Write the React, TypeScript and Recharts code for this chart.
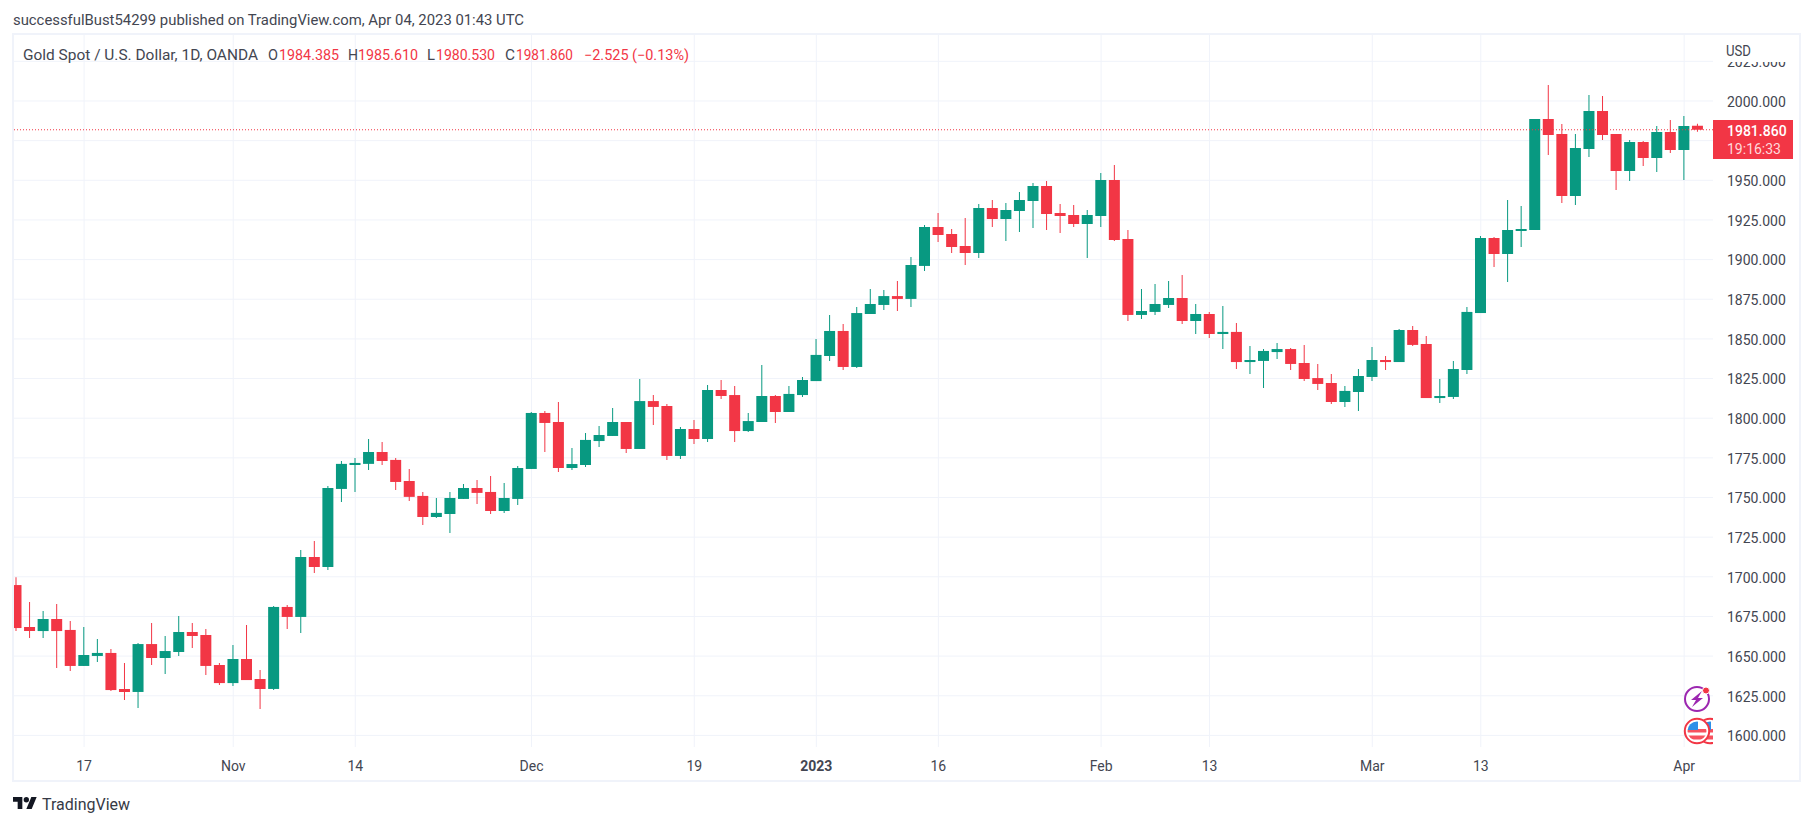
import { Bar, CartesianGrid, Cell, ComposedChart, ReferenceLine, XAxis, YAxis } from "recharts";

const GREEN = "#089981";
const RED = "#F23645";
const GRID = "#F0F3FA";
const FONT = "Roboto, sans-serif";

const dates = [
  "10-10", "10-11", "10-12", "10-13", "10-14", "10-17", "10-18", "10-19", "10-20", "10-21",
  "10-24", "10-25", "10-26", "10-27", "10-28", "10-31", "11-01", "11-02", "11-03", "11-04",
  "11-07", "11-08", "11-09", "11-10", "11-11", "11-14", "11-15", "11-16", "11-17", "11-18",
  "11-21", "11-22", "11-23", "11-24", "11-25", "11-28", "11-29", "11-30", "12-01", "12-02",
  "12-05", "12-06", "12-07", "12-08", "12-09", "12-12", "12-13", "12-14", "12-15", "12-16",
  "12-19", "12-20", "12-21", "12-22", "12-23", "12-27", "12-28", "12-29", "12-30", "01-03",
  "01-04", "01-05", "01-06", "01-09", "01-10", "01-11", "01-12", "01-13", "01-16", "01-17",
  "01-18", "01-19", "01-20", "01-23", "01-24", "01-25", "01-26", "01-27", "01-30", "01-31",
  "02-01", "02-02", "02-03", "02-06", "02-07", "02-08", "02-09", "02-10", "02-13", "02-14",
  "02-15", "02-16", "02-17", "02-20", "02-21", "02-22", "02-23", "02-24", "02-27", "02-28",
  "03-01", "03-02", "03-03", "03-06", "03-07", "03-08", "03-09", "03-10", "03-13", "03-14",
  "03-15", "03-16", "03-17", "03-20", "03-21", "03-22", "03-23", "03-24", "03-27", "03-28",
  "03-29", "03-30", "03-31", "04-03", "04-04",
];

const opens = [
  1694.8, 1668.4, 1665.8, 1673.4, 1666.5, 1643.8, 1650.1, 1652, 1629.3, 1627.4,
  1657.6, 1648.8, 1652.6, 1665.2, 1663.3, 1644.4, 1633, 1648.2, 1635.6, 1629.3,
  1681, 1674.7, 1712.5, 1706.2, 1755.4, 1770.5, 1771.2, 1778.7, 1773.7, 1760.4,
  1751, 1737.7, 1739.6, 1749.1, 1756, 1753.5, 1741.5, 1749.1, 1768, 1803.3,
  1797.6, 1768.6, 1770.5, 1785.6, 1788.8, 1797.6, 1780.6, 1810.8, 1807.7, 1776.2,
  1793.2, 1786.9, 1817.8, 1814.6, 1791.9, 1797.6, 1814, 1803.9, 1814.6, 1823.4,
  1839.2, 1855, 1832.3, 1865.7, 1871.4, 1877, 1875.2, 1896, 1920.5, 1916.1,
  1908.6, 1904.2, 1932.5, 1925.6, 1930.6, 1936.9, 1946.4, 1929.4, 1928.1, 1922.4,
  1927.5, 1950.2, 1913, 1865.1, 1867, 1871.4, 1875.8, 1861.3, 1865.7, 1853.1,
  1854.4, 1835.4, 1836.1, 1841.7, 1843.6, 1834.8, 1825.3, 1822.2, 1810.2, 1816.5,
  1826, 1836.7, 1835.4, 1855.6, 1846.8, 1812.7, 1813.4, 1830.4, 1866.3, 1913.6,
  1903.5, 1918.1, 1918.7, 1988.7, 1979.2, 1940.1, 1969.7, 1993.7, 1979.2, 1955.9,
  1974.2, 1964.1, 1980.5, 1969.1, 1984.385,
];

const highs = [
  1699.7, 1684.1, 1678.4, 1682.9, 1672.1, 1668.4, 1660.8, 1654.5, 1645.7, 1658.3,
  1670.9, 1662.7, 1675.3, 1670.9, 1667.1, 1645.7, 1657, 1669.6, 1641.2, 1681.6,
  1682.2, 1716.9, 1722.6, 1757.3, 1773, 1774.9, 1786.9, 1785, 1774.9, 1768,
  1753.5, 1749.7, 1753.5, 1758.5, 1761.1, 1763.6, 1759.2, 1769.9, 1803.9, 1804.5,
  1810.2, 1781.2, 1790.7, 1795.1, 1806.4, 1797.6, 1824.7, 1814.6, 1809, 1794.4,
  1798.9, 1820.9, 1824.1, 1820.3, 1803.3, 1833.5, 1814.6, 1820.3, 1826, 1849.9,
  1865.1, 1859.4, 1870.1, 1881.5, 1880.8, 1886.5, 1901.6, 1921.8, 1929.4, 1919.3,
  1926.2, 1935.1, 1937.6, 1935.7, 1942.6, 1948.3, 1949.6, 1935.1, 1934.4, 1931.3,
  1954.6, 1959.6, 1918.7, 1881.5, 1884.6, 1886.5, 1890.3, 1872, 1867, 1870.8,
  1860, 1845.5, 1843.6, 1847.4, 1844.3, 1846.2, 1834.2, 1827.9, 1820.3, 1831,
  1844.9, 1839.2, 1856.2, 1858.1, 1851.8, 1824.7, 1836.1, 1870.1, 1914.9, 1914.3,
  1937.6, 1933.8, 1988.7, 2010.1, 1985.5, 1979.2, 2003.8, 2003.2, 1979.2, 1975.4,
  1974.8, 1984.2, 1988, 1990.5, 1985.61,
];

const lows = [
  1665.8, 1661.4, 1661.4, 1642.5, 1640.6, 1643.8, 1646.3, 1628, 1622.3, 1617.3,
  1644.4, 1638.7, 1650.1, 1655.1, 1638.1, 1631.8, 1631.2, 1634.9, 1616.7, 1628.6,
  1667.1, 1664.6, 1702.4, 1704.3, 1747.2, 1753.5, 1767.4, 1770.5, 1754.8, 1747.8,
  1732.7, 1737.1, 1727.7, 1749.1, 1745.9, 1739.6, 1740.3, 1745.3, 1768, 1778.7,
  1766.1, 1767.3, 1769.2, 1781.8, 1788.8, 1778.1, 1780.6, 1795.7, 1773.6, 1774.3,
  1783.7, 1785, 1812.1, 1785, 1791.3, 1797.6, 1797, 1803.9, 1813.4, 1823.4,
  1836.1, 1830.4, 1831.6, 1865.7, 1868.2, 1867.6, 1870.1, 1892.8, 1911.1, 1904.2,
  1896.6, 1901, 1920.5, 1911.7, 1917.4, 1919.9, 1918.7, 1916.8, 1920.5, 1901,
  1920.5, 1911.7, 1861.3, 1862.5, 1865.1, 1869.5, 1859.4, 1853.1, 1850.6, 1843.6,
  1831, 1827.9, 1819, 1837.3, 1830.4, 1823.5, 1817.8, 1809, 1807.1, 1804.5,
  1823.5, 1830.4, 1835.4, 1845.5, 1812.7, 1809.6, 1812.1, 1827.9, 1866.3, 1895.3,
  1885.9, 1908, 1918.7, 1966, 1935.7, 1934.4, 1964.7, 1975.4, 1943.9, 1949.6,
  1959, 1955.2, 1967.2, 1950.2, 1980.53,
];

const closes = [
  1667.7, 1665.8, 1673.4, 1665.8, 1643.8, 1650.7, 1652, 1628.6, 1627.4, 1657.6,
  1648.8, 1653.2, 1665.2, 1662.7, 1643.8, 1633, 1648.2, 1634.9, 1629.3, 1681,
  1674.7, 1712.5, 1706.2, 1756, 1771.2, 1771.8, 1778.7, 1773, 1759.8, 1750.4,
  1737.7, 1740.3, 1749.7, 1756, 1752.9, 1741.5, 1749.7, 1768.6, 1803.3, 1797,
  1768.6, 1771.1, 1786.3, 1789.4, 1797.6, 1780.6, 1810.8, 1807.1, 1776.2, 1793.2,
  1786.9, 1817.8, 1814, 1791.9, 1798.2, 1814, 1803.9, 1815.3, 1824.1, 1839.9,
  1855, 1832.3, 1866.3, 1872, 1877, 1875.2, 1896.6, 1920.5, 1915.5, 1907.9,
  1904.2, 1932.5, 1925.6, 1931.3, 1937.6, 1946.4, 1928.8, 1927.5, 1922.4, 1928.1,
  1950.2, 1912.3, 1865.1, 1867.6, 1872, 1875.8, 1861.3, 1865.7, 1853.1, 1854.4,
  1835.4, 1836.7, 1842.4, 1843.6, 1834.2, 1824.7, 1821.6, 1810.2, 1817.2, 1826.6,
  1836.7, 1835.4, 1855.6, 1846.2, 1812.7, 1814, 1831, 1867, 1913.6, 1903.5,
  1918.7, 1919.3, 1988.7, 1978.6, 1940.1, 1970.4, 1993.7, 1978.6, 1955.9, 1974.2,
  1964.1, 1980.5, 1969.1, 1984.2, 1981.86,
];

const priceTicks = [
  1600, 1625, 1650, 1675, 1700, 1725, 1750, 1775, 1800, 1825, 1850, 1875, 1900,
  1925, 1950, 1975, 2000, 2025,
];
const hiddenPriceTick = 1975; // sits under the last price label in the reference
const tickDates = ["10-17", "11-01", "11-14", "12-01", "12-19", "01-03", "01-16", "02-01", "02-13", "03-01", "03-13", "04-03"];
const tickLabels = ["17", "Nov", "14", "Dec", "19", "2023", "16", "Feb", "13", "Mar", "13", "Apr"];
const lastPrice = 1981.86;

const candles = dates.map((date, i) => ({
  date,
  body: [Math.min(opens[i], closes[i]), Math.max(opens[i], closes[i])],
  wick: [lows[i], highs[i]],
  up: closes[i] >= opens[i],
}));

function TimeTick({ x, y, payload }: any) {
  const label = tickLabels[tickDates.indexOf(payload.value)];
  return (
    <text x={x} y={y + 21.5} textAnchor="middle" fontFamily={FONT} fontSize={14} fill="#434651" fontWeight={label === "2023" ? 700 : 400}>
      {label}
    </text>
  );
}

function PriceTick({ x, y, payload }: any) {
  if (payload.value === hiddenPriceTick) return <g />;
  return (
    <text x={x} y={y + 5.8} fontFamily={FONT} fontSize={14} fill="#434651">
      {payload.value.toFixed(3)}
    </text>
  );
}

function Label({ x, y, w, fill = "#434651", size = 14, weight = 400, children }: any) {
  return (
    <text x={x} y={y} textLength={w} lengthAdjust="spacingAndGlyphs" fontFamily={FONT} fontSize={size} fontWeight={weight} fill={fill}>
      {children}
    </text>
  );
}

function FlagIcon({ cx, cy }: any) {
  return (
    <g transform={`translate(${cx} ${cy})`}>
      <circle r={12.2} fill="#fff" stroke={RED} strokeWidth={2} />
      <clipPath id={`flag${cx}`}><circle r={9.5} /></clipPath>
      <g clipPath={`url(#flag${cx})`}>
        <rect x={-10} y={-10} width={20} height={20} fill="#fff" />
        <rect x={-10} y={-2} width={20} height={3.5} fill="#F7525F" />
        <rect x={-10} y={4.5} width={20} height={4} fill="#F7525F" />
        <rect x={-10} y={-10} width={11} height={9} fill="#2E8FE8" />
      </g>
    </g>
  );
}

export default function App() {
  return (
    <div style={{ position: "absolute", left: 0, top: 0, width: 1813, height: 826, background: "#fff", overflow: "hidden" }}>
      <ComposedChart
        width={1813}
        height={826}
        data={candles}
        barGap={0}
        margin={{ top: 35, right: 13, bottom: 0, left: 9.5 }}
      >
        <CartesianGrid stroke={GRID} strokeWidth={1} syncWithTicks xAxisId="time" />
        <XAxis
          xAxisId="time"
          dataKey="date"
          ticks={tickDates}
          interval={0}
          height={79}
          padding={{ left: 0, right: 8.5 }}
          axisLine={false}
          tickLine={false}
          tickSize={0}
          tick={<TimeTick />}
        />
        <XAxis xAxisId="wick" dataKey="date" hide padding={{ left: 0, right: 8.5 }} />
        <YAxis
          orientation="right"
          width={87}
          domain={[1592.7, 2041.6]}
          ticks={priceTicks}
          interval={0}
          allowDataOverflow
          axisLine={false}
          tickLine={false}
          tickSize={0}
          tickMargin={14}
          tick={<PriceTick />}
        />
        <ReferenceLine xAxisId="time" y={lastPrice} stroke={RED} strokeWidth={1} strokeDasharray="1 2" />
        <Bar xAxisId="wick" dataKey="wick" barSize={1} isAnimationActive={false}>
          {candles.map((c, i) => (
            <Cell key={i} fill={c.up ? GREEN : RED} />
          ))}
        </Bar>
        <Bar xAxisId="time" dataKey="body" barSize={11} isAnimationActive={false}>
          {candles.map((c, i) => (
            <Cell key={i} fill={c.up ? GREEN : RED} />
          ))}
        </Bar>
      </ComposedChart>

      <svg width={1813} height={826} style={{ position: "absolute", left: 0, top: 0, pointerEvents: "none" }}>
        <rect x={0} y={0} width={12} height={826} fill="#fff" />
        <rect x={1715} y={35} width={84} height={27} fill="#fff" />
        <rect x={13} y={34} width={1787} height={747} fill="none" stroke={GRID} strokeWidth={2} />

        <Label x={13} y={25} w={511}>successfulBust54299 published on TradingView.com, Apr 04, 2023 01:43 UTC</Label>
        <Label x={23} y={60} w={235}>Gold Spot / U.S. Dollar, 1D, OANDA</Label>
        <Label x={268} y={60} w={10}>O</Label>
        <Label x={279} y={60} w={60} fill={RED}>1984.385</Label>
        <Label x={348} y={60} w={10}>H</Label>
        <Label x={358} y={60} w={60} fill={RED}>1985.610</Label>
        <Label x={427} y={60} w={8}>L</Label>
        <Label x={436} y={60} w={59} fill={RED}>1980.530</Label>
        <Label x={505} y={60} w={10}>C</Label>
        <Label x={516} y={60} w={57} fill={RED}>1981.860</Label>
        <Label x={584} y={60} w={105} fill={RED}>−2.525 (−0.13%)</Label>
        <Label x={1726} y={55.5} w={25}>USD</Label>

        <rect x={1713} y={120} width={80} height={39} fill={RED} />
        <text x={1727} y={136} fontFamily={FONT} fontSize={14} fontWeight={500} fill="#fff">1981.860</text>
        <text x={1727} y={154} fontFamily={FONT} fontSize={14} fill="#FFD9DC">19:16:33</text>

        <clipPath id="paneClip"><rect x={14} y={35} width={1699} height={712} /></clipPath>
        <g clipPath="url(#paneClip)">
          <FlagIcon cx={1710} cy={731} />
          <FlagIcon cx={1697} cy={731} />
          <circle cx={1697} cy={699} r={12} fill="#fff" stroke="#9C27B0" strokeWidth={2} />
          <path d="M1702 691 L1691 700 L1696 700 L1692 707 L1703 698 L1698 698 Z" fill="#9C27B0" />
          <circle cx={1706} cy={690.5} r={3.5} fill={RED} stroke="#fff" strokeWidth={1} />
        </g>

        <g transform="translate(13 794.4) scale(0.667)" fill="#131722">
          <path d="M14 22H7V11H0V4h14v18zM28 22h-8l7.5-18h8L28 22z" />
          <circle cx={20} cy={8} r={4} />
        </g>
        <Label x={42} y={810} w={88} size={16} fill="#363A45">TradingView</Label>
      </svg>
    </div>
  );
}
